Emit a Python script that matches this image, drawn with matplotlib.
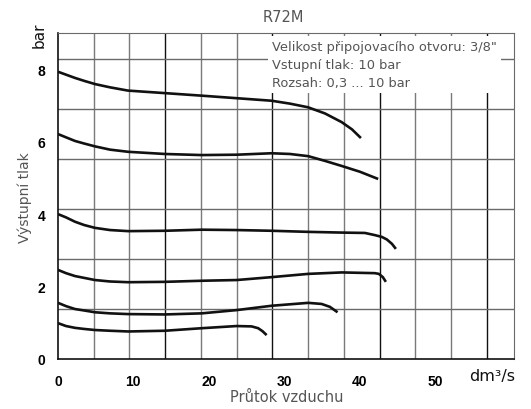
import numpy as np
import matplotlib
matplotlib.use("Agg")
import matplotlib.pyplot as plt

# flow (dm3/s) and output pressure (bar)
flow_1 = [0, 1.06, 2.25, 3.45, 4.91, 6.9, 9.28, 14.19, 19.06, 23.70, 28.34, 30.77, 33.16, 35.41, 37.63, 39.0, 40.19]
pres_1 = [7.93, 7.85, 7.76, 7.68, 7.59, 7.50, 7.41, 7.34, 7.27, 7.20, 7.13, 7.05, 6.95, 6.78, 6.54, 6.34, 6.10]

flow_2 = [0, 1.06, 2.25, 3.45, 4.91, 6.9, 9.32, 14.19, 19.06, 23.70, 28.34, 30.77, 33.20, 35.41, 37.63, 40.05, 42.48]
pres_2 = [6.21, 6.12, 6.02, 5.95, 5.87, 5.78, 5.72, 5.66, 5.63, 5.64, 5.68, 5.66, 5.60, 5.47, 5.33, 5.17, 4.97]

flow_3 = [0, 1.06, 2.25, 3.45, 4.91, 6.9, 9.32, 14.19, 19.06, 23.70, 28.34, 33.20, 37.63, 40.72, 42.04, 42.97, 43.63, 44.30, 44.83]
pres_3 = [4.00, 3.91, 3.79, 3.70, 3.62, 3.56, 3.53, 3.54, 3.57, 3.56, 3.54, 3.51, 3.49, 3.48, 3.42, 3.37, 3.30, 3.18, 3.04]

flow_4 = [0, 1.06, 2.25, 3.45, 4.91, 6.9, 9.32, 14.19, 19.06, 23.70, 28.34, 33.20, 37.63, 42.04, 42.57, 43.10, 43.50]
pres_4 = [2.46, 2.37, 2.29, 2.24, 2.18, 2.14, 2.12, 2.13, 2.16, 2.18, 2.26, 2.35, 2.39, 2.37, 2.35, 2.26, 2.13]

flow_5 = [0, 1.06, 2.25, 3.45, 4.91, 6.9, 9.32, 14.19, 19.06, 23.70, 28.34, 33.20, 34.97, 36.07, 37.09]
pres_5 = [1.55, 1.46, 1.38, 1.34, 1.29, 1.26, 1.24, 1.23, 1.26, 1.35, 1.47, 1.55, 1.52, 1.44, 1.29]

flow_6 = [0, 1.06, 2.25, 3.45, 4.91, 6.9, 9.32, 14.19, 19.06, 23.70, 25.69, 26.56, 27.12, 27.68]
pres_6 = [0.99, 0.91, 0.86, 0.83, 0.80, 0.78, 0.76, 0.78, 0.85, 0.91, 0.90, 0.85, 0.77, 0.66]

x_ticks = [0, 10, 20, 30, 40, 50]
y_ticks = [0, 2, 4, 6, 8]

info_lines = ["Velikost připojovacího otvoru: 3/8\"",
              "Vstupní tlak: 10 bar",
              "Rozsah: 0,3 ... 10 bar"]

label_font = ["DejaVu Sans"]
tick_font = ["Liberation Sans", "DejaVu Sans"]
gray = "#555555"

fig = plt.figure(figsize=(5.31, 4.10), dpi=100)
ax = fig.add_axes([58 / 531, 50 / 410, 456 / 531, 326 / 410])

ax.set_xlim(0, 60.5)
ax.set_ylim(0, 9.0)

# grid of the original does not line up with the tick labels
for i, gx in enumerate(np.arange(1, 13) * 4.74):
    col = "#111111" if i % 3 == 2 else "#7a7a7a"
    ax.axvline(gx, color=col, lw=1.0, zorder=1)
for gy in np.arange(1, 7) * 1.38:
    ax.axhline(gy, color="#6a6a6a", lw=1.0, zorder=1)

for fx, py in [(flow_1, pres_1), (flow_2, pres_2), (flow_3, pres_3),
               (flow_4, pres_4), (flow_5, pres_5), (flow_6, pres_6)]:
    ax.plot(fx, py, color="#111111", lw=1.9, solid_capstyle="butt",
            solid_joinstyle="round", zorder=3)

for side in ["top", "right"]:
    ax.spines[side].set_color("#6a6a6a")
for side in ["left", "bottom"]:
    ax.spines[side].set_color("#111111")
    ax.spines[side].set_linewidth(1.2)

ax.set_xticks(x_ticks)
ax.set_yticks(y_ticks)
ax.tick_params(axis="x", length=0, pad=11)
ax.tick_params(axis="y", length=0, pad=9)
for lab in ax.get_xticklabels() + ax.get_yticklabels():
    lab.set_family(tick_font)
    lab.set_fontweight("bold")
    lab.set_fontsize(10)

ax.text(0.469, 0.978, "\n".join(info_lines), transform=ax.transAxes,
        ha="left", va="top", color=gray, family=label_font, fontsize=9.4,
        linespacing=1.5, zorder=5,
        bbox=dict(facecolor="white", edgecolor="none", pad=3))

ax.text(-0.042, 0.995, "bar", transform=ax.transAxes, rotation=90,
        ha="center", va="center", color="#111111", family=label_font, fontsize=11)
ax.text(0.952, -0.052, "dm³/s", transform=ax.transAxes,
        ha="center", va="center", color="#111111", family=label_font, fontsize=11.5)

fig.text(283 / 531, 1 - 17 / 410, "R72M", ha="center", va="center",
         color=gray, family=label_font, fontsize=10.5)
fig.text(287 / 531, 1 - 398 / 410, "Průtok vzduchu", ha="center", va="center",
         color=gray, family=label_font, fontsize=10.5)
fig.text(25 / 531, 1 - 198 / 410, "Výstupní tlak", ha="center", va="center",
         rotation=90, color=gray, family=label_font, fontsize=10)

fig.savefig("out.png", dpi=100)
